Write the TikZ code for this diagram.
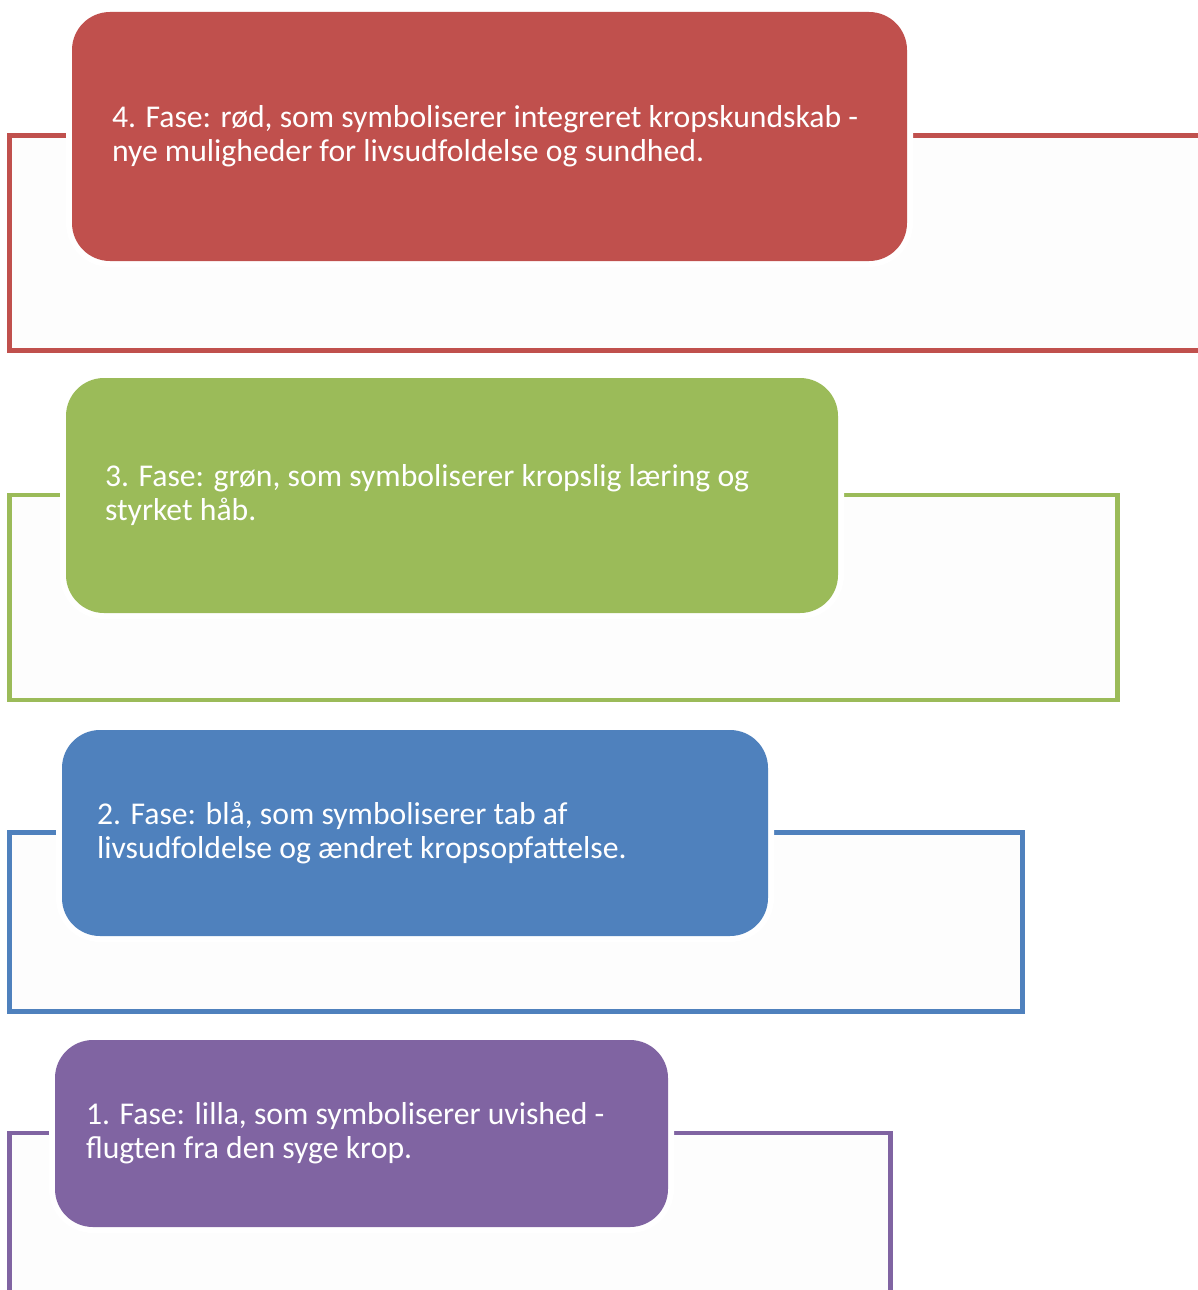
\documentclass[tikz,border=0pt]{standalone}
\usepackage{fontspec}
\setmainfont{Carlito}
\definecolor{phasered}{HTML}{C0504D}
\definecolor{phasegreen}{HTML}{9BBB59}
\definecolor{phaseblue}{HTML}{4F81BD}
\definecolor{phasepurple}{HTML}{8064A2}
\definecolor{framefill}{HTML}{FDFDFD}
\begin{document}
\begin{tikzpicture}[x=1pt,y=-1pt,
  phasebox/.style={rectangle, rounded corners=38pt, fill=#1, draw=none,
    preaction={draw=white, line width=12pt}, inner sep=0pt},
  phasetext/.style={anchor=west, align=left, text=white, inner sep=0pt,
    font=\fontsize{31.7}{34}\selectfont},
  phaseframe/.style={draw=#1, line width=4.5pt, fill=framefill}]
\useasboundingbox (0,0) rectangle (1198,1290);
\clip (0,0) rectangle (1198,1290);

% outer frames, one per phase
\draw[phaseframe=phasered]    (9.5,135.5)  rectangle (1215,350.5);
\draw[phaseframe=phasegreen]  (9.5,495)    rectangle (1117.5,700);
\draw[phaseframe=phaseblue]   (9.5,832.5)  rectangle (1022.5,1011.5);
\draw[phaseframe=phasepurple] (9.5,1133)   rectangle (890.5,1310);

% phase 4
\node[phasebox=phasered, minimum width=835pt, minimum height=249pt] (b4) at (489.5,136.5) {};
\node[phasetext] (t4) at ([xshift=40pt]b4.west)
  {4. Fase: rød, som symboliserer integreret kropskundskab -\\nye muligheder for livsudfoldelse og sundhed.};

% phase 3
\node[phasebox=phasegreen, minimum width=772pt, minimum height=235pt] (b3) at (452,495.5) {};
\node[phasetext] (t3) at ([xshift=39pt]b3.west)
  {3. Fase: grøn, som symboliserer kropslig læring og\\styrket håb.};

% phase 2
\node[phasebox=phaseblue, minimum width=706pt, minimum height=206pt] (b2) at (415,833) {};
\node[phasetext] (t2) at ([xshift=35pt]b2.west)
  {2. Fase: blå, som symboliserer tab af\\livsudfoldelse og ændret kropsopfattelse.};

% phase 1
\node[phasebox=phasepurple, minimum width=613pt, minimum height=187pt] (b1) at (361.5,1133.5) {};
\node[phasetext] (t1) at ([xshift=31pt]b1.west)
  {1. Fase: lilla, som symboliserer uvished -\\flugten fra den syge krop.};
\end{tikzpicture}
\end{document}
